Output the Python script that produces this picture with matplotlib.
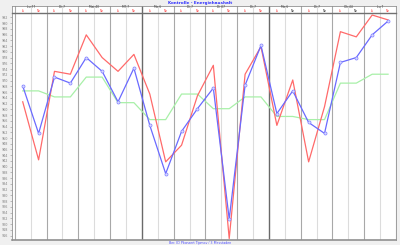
import numpy as np
import matplotlib
matplotlib.use('Agg')
import matplotlib.pyplot as plt

# values
group_labels = ['Lu 77', 'Di 7', 'Mai 40', 'MT 7', 'Mo 6', 'Di 7',
                'Di 07', 'Di 7', 'Mo 6', 'Di 7', 'Ok 44', 'Lu 7']
sub_labels = ['Lt', 'Ne'] * 12
red_vals = [962.6, 942.4, 973.2, 972.2, 985.9, 978.0, 973.2, 979.1,
            965.3, 941.7, 947.5, 964.7, 975.3, 915.0, 972.2, 981.8,
            954.4, 970.2, 941.7, 960.9, 987.0, 985.2, 992.8, 991.1]
blue_vals = [968.1, 951.6, 971.2, 969.1, 978.0, 973.2, 962.6, 974.3,
             954.4, 937.6, 952.3, 960.2, 967.4, 921.8, 968.4, 982.2,
             958.5, 966.4, 955.4, 951.6, 976.3, 978.0, 985.9, 990.7]
green_vals = [966.4, 966.4, 964.3, 964.3, 971.2, 971.2, 962.3, 962.3,
              956.4, 956.4, 965.3, 965.3, 960.2, 960.2, 964.3, 964.3,
              957.5, 957.5, 956.4, 956.4, 969.1, 969.1, 972.2, 972.2]
y_ticks = list(range(916, 993, 2))

x = np.arange(len(red_vals))
xlim = (-0.7, 23.5)

fig = plt.figure(figsize=(4, 2.45), dpi=100)
fig.patch.set_facecolor('#f0f0f0')

ax = fig.add_axes([0.029, 0.0204, 0.961, 0.9253])
hd = fig.add_axes([0.029, 0.9457, 0.961, 0.0298])

for a in (ax, hd):
    a.set_facecolor('white')
    a.set_xlim(*xlim)
    for k in range(0, 25):
        pos = k - 0.5
        if k % 8 == 0 and k > 0 and k < 24:
            c, lw = '#6a6a6a', 1.0
        elif k % 2 == 0:
            c, lw = '#a8a8a8', 0.8
        else:
            c, lw = '#dcdcdc', 0.8
        a.axvline(pos, color=c, lw=lw, zorder=0)
    for s in a.spines.values():
        s.set_color('#909090')
        s.set_linewidth(0.6)
    a.set_xticks([])

ax.plot(x, green_vals, color='#a8f0a8', lw=0.9, zorder=2)
ax.plot(x, red_vals, color='#ff6a6a', lw=0.9, zorder=3)
ax.plot(x, blue_vals, color='#6a6aff', lw=0.9, zorder=4,
        marker='o', markersize=2.2, markerfacecolor='#d8d8ff',
        markeredgecolor='#8080ff', markeredgewidth=0.5)

ax.set_ylim(914.5, 993.4)
ax.set_yticks(y_ticks)
ax.set_yticklabels([str(v) for v in y_ticks], fontsize=2.4, color='#808080')
ax.tick_params(axis='y', length=1.5, width=0.4, pad=0.8, color='#909090')
ax.spines['bottom'].set_linewidth(1.2)

hd.set_ylim(0, 1)
hd.set_yticks([])
hd.spines['bottom'].set_linewidth(1.0)
hd.spines['bottom'].set_color('#707070')
for g, lab in enumerate(group_labels):
    hd.text(2 * g + 0.5, 0.82, lab, fontsize=2.2, color='#404040',
            ha='center', va='center')
for i, lab in enumerate(sub_labels):
    col = '#303030' if i in (17, 19, 21) else '#ff4040'
    hd.text(i, 0.3, lab, fontsize=2.2, color=col, ha='center', va='center')

fig.text(0.5, 0.988, 'Kontrolle - Energiehaushalt', fontsize=3.0,
         color='#3030ff', weight='bold', ha='center', va='center')
fig.text(0.5, 0.008, 'Ber. ID Pkonzert Tipmov / 3 Messtaden', fontsize=2.3,
         color='#5050ff', ha='center', va='center')

fig.savefig('out.png', dpi=100, facecolor=fig.get_facecolor())
